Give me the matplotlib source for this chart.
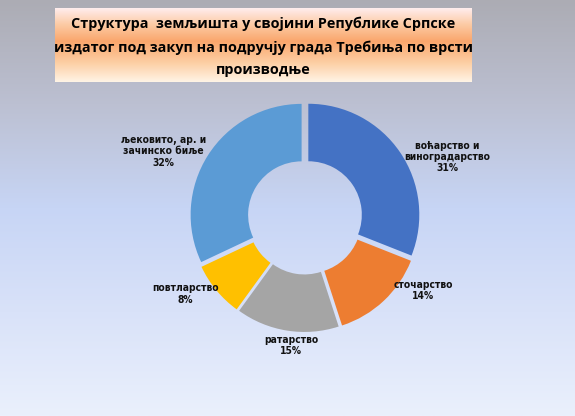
import numpy as np
import matplotlib
matplotlib.use('Agg')
import matplotlib.pyplot as plt
from matplotlib.colors import LinearSegmentedColormap

# подаци
categories = ['воћарство и\nвиноградарство', 'сточарство', 'ратарство',
              'повтларство', 'љековито, ар. и\nзачинско биље']
shares = [31, 14, 15, 8, 32]
colors = ['#4472C4', '#ED7D31', '#A5A5A5', '#FFC000', '#5B9BD5']
title = 'Структура  земљишта у својини Републике Српске\nиздатог под закуп на подручју града Требиња по врсти\nпроизводње'
# положаји ознака (у полупречницима)
label_pos = [(1.235, 0.52), (1.03, -0.64), (-0.12, -1.12), (-1.04, -0.67), (-1.23, 0.57)]

W, H = 575, 416
fig = plt.figure(figsize=(W / 100, H / 100), dpi=100)

# позадина
bg = fig.add_axes([0, 0, 1, 1])
bg_cmap = LinearSegmentedColormap.from_list('bg', [
    (0.0, '#ACACB4'), (0.25, '#BCC0D2'), (0.5, '#C7D5F5'),
    (0.75, '#D9E2F9'), (1.0, '#EAF0FC')])
bg.imshow(np.linspace(0, 1, 256).reshape(-1, 1), aspect='auto', cmap=bg_cmap,
          extent=[0, 1, 0, 1])
bg.set_axis_off()

# наслов
tb = fig.add_axes([55 / W, 1 - 82 / H, (472 - 55) / W, (82 - 8) / H])
tb_cmap = LinearSegmentedColormap.from_list('tb', [
    (0.0, '#FFEDEE'), (0.22, '#FCCBA5'), (0.45, '#FAA66C'),
    (0.75, '#FDD0A6'), (1.0, '#FFF4E6')])
tb.imshow(np.linspace(0, 1, 256).reshape(-1, 1), aspect='auto', cmap=tb_cmap,
          extent=[0, 1, 0, 1])
tb.set_axis_off()
tb.text(0.5, 0.47, title, ha='center', va='center', fontsize=10.4,
        fontweight='bold', family=['Open Sans', 'DejaVu Sans'],
        linespacing=1.78, transform=tb.transAxes)

# прстенасти графикон
cx, cy, r = 305, 217, 115
ax = fig.add_axes([(cx - r) / W, 1 - (cy + r) / H, 2 * r / W, 2 * r / H])
ax.pie(shares, colors=colors, startangle=90, counterclock=False, radius=0.965,
       explode=[0.035] * len(shares),
       wedgeprops=dict(width=0.5, linewidth=0))
ax.set_xlim(-1, 1)
ax.set_ylim(-1, 1)
ax.set_aspect('equal')
ax.set_axis_off()

for name, val, (lx, ly) in zip(categories, shares, label_pos):
    ax.text(lx, ly, '{}\n{}%'.format(name, val), ha='center', va='center',
            fontsize=7.4, fontweight='bold', family='DejaVu Sans',
            fontstretch='condensed', color='#111111', linespacing=1.15,
            clip_on=False)

plt.savefig('out.png', dpi=100)
